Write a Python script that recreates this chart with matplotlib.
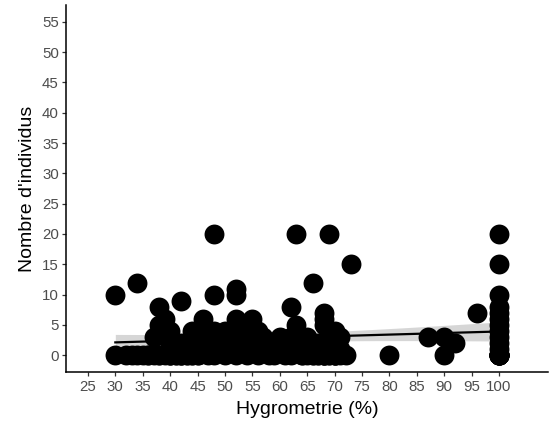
import numpy as np
import matplotlib
matplotlib.use("Agg")
import matplotlib.pyplot as plt

plt.rcParams['font.family'] = ['Liberation Sans', 'DejaVu Sans']

# visible (non-overlapping) observations
hygro = [30, 30, 32, 34, 34, 36, 37, 38, 38, 38, 39, 39, 40, 40, 40, 41, 42, 42, 42, 43,
         44, 44, 45, 45, 46, 46, 46, 47, 47, 48, 48, 48, 48, 49, 49, 50, 50, 50, 51, 51,
         52, 52, 52, 52, 53, 53, 54, 54, 54, 55, 55, 56, 56, 56, 57, 58, 58, 58, 59, 59,
         60, 60, 61, 61, 62, 62, 62, 63, 63, 63, 64, 65, 66, 66, 67, 68, 68, 68, 68, 69,
         69, 69, 70, 70, 70, 71, 71, 72, 73, 80, 87, 90, 90, 92, 96,
         100, 100, 100, 100, 100, 100, 100, 100, 100, 100, 100, 100]
individus = [0, 10, 0, 0, 12, 0, 3, 0, 8, 5, 6, 4, 0, 2, 4, 1, 0, 9, 2, 0,
             1, 4, 0, 3, 6, 4, 1, 0, 2, 20, 10, 4, 0, 3, 1, 0, 2, 4, 1, 3,
             10, 11, 6, 0, 4, 2, 0, 5, 3, 6, 1, 0, 4, 2, 3, 0, 1, 2, 0, 2,
             3, 1, 0, 2, 8, 0, 3, 20, 5, 1, 0, 3, 12, 0, 2, 7, 6, 5, 0, 20,
             4, 1, 4, 2, 0, 3, 1, 0, 15, 0, 3, 3, 0, 2, 7,
             0, 1, 2, 3, 4, 5, 6, 7, 8, 10, 15, 20]

# overplotted observations hidden in the bottom row (zero individuals)
hygro_zeros = [33, 35, 36, 37, 38, 39, 40, 40, 41, 41, 42, 43, 44, 44, 45, 42,
               64, 65, 66, 67, 67, 68, 68, 68, 69, 69, 70, 70, 71, 70,
               100, 100, 100, 100, 100, 100, 100]
individus_zeros = [0] * len(hygro_zeros)

x_ticks = [25, 30, 35, 40, 45, 50, 55, 60, 65, 70, 75, 80, 85, 90, 95, 100]
y_ticks = [0, 5, 10, 15, 20, 25, 30, 35, 40, 45, 50, 55]

x = np.array(hygro + hygro_zeros, float)
y = np.array(individus + individus_zeros, float)

fig = plt.figure(figsize=(5.49, 4.26), dpi=100)
ax = fig.add_axes([66/549, 54/426, 482.3/549, 367/426])

# linear fit with 95% CI
n = len(x)
b, a = np.polyfit(x, y, 1)
xs = np.linspace(x.min(), x.max(), 100)
ys = a + b * xs
resid = y - (a + b * x)
s = np.sqrt(np.sum(resid**2) / (n - 2))
sxx = np.sum((x - x.mean())**2)
se = s * np.sqrt(1/n + (xs - x.mean())**2 / sxx)
t = 1.977
ax.fill_between(xs, ys - t*se, ys + t*se, color='#999999', alpha=0.4, linewidth=0, zorder=1)
ax.plot(xs, ys, color='black', lw=1.6, zorder=1.5)

ax.scatter(x, y, s=205, color='black', zorder=2, linewidths=0)

ax.set_xlim(21, 109)
ax.set_ylim(-2.75, 57.75)
ax.set_xticks(x_ticks)
ax.set_yticks(y_ticks)
for sp in ['top', 'right']:
    ax.spines[sp].set_visible(False)
for sp in ['left', 'bottom']:
    ax.spines[sp].set_linewidth(1.1)
ax.tick_params(axis='both', colors='#333333', labelcolor='#4d4d4d', labelsize=10.8,
               length=3, width=0.9)
ax.tick_params(axis='x', pad=3)
ax.tick_params(axis='y', pad=2.2)
ax.set_xlabel('Hygrometrie (%)', fontsize=14, color='black', labelpad=5)
ax.set_ylabel("Nombre d'individus", fontsize=14, color='black', labelpad=4)

fig.savefig('out.png', dpi=100)
